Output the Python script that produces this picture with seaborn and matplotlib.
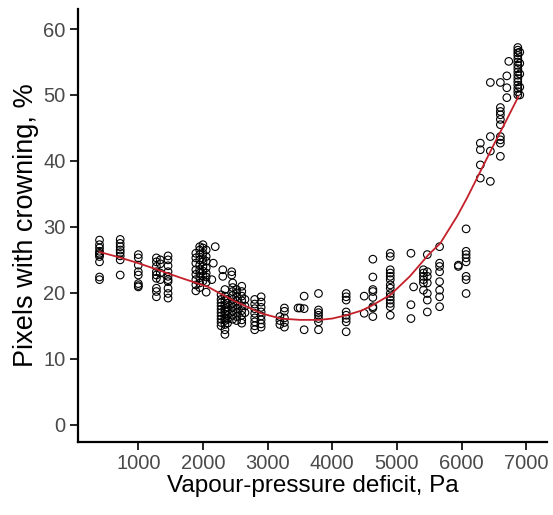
import numpy as np
import pandas as pd
import seaborn as sns
import matplotlib
matplotlib.use("Agg")
import matplotlib.pyplot as plt

# ---- data ----
col_x = [400, 720, 1000, 1280, 1340, 1460, 1890, 1950, 2000, 2050, 2137, 2160, 2190,
         2307, 2445, 2280, 2340, 2380, 2460, 2520, 2600, 2650, 2800, 2900, 3190, 3260,
         3470, 3503, 3565, 3787, 4215, 4494, 4628, 4897, 5217, 5258, 5410, 5470, 5660,
         5950, 6070, 6290, 6445, 6600, 6700, 6730, 6870, 6900]
col_y = [
    [28.0, 27.3, 26.8, 26.3, 26.0, 25.8, 25.5, 24.7, 22.4, 22.0],
    [28.1, 27.5, 27.0, 26.5, 26.1, 25.6, 25.0, 22.7],
    [25.8, 25.3, 24.2, 23.2, 22.7, 21.4, 20.9, 21.1],
    [25.3, 24.7, 24.0, 23.2, 22.7, 22.2, 20.7, 20.2, 19.4],
    [25.0, 24.4, 23.0, 22.0],
    [25.6, 25.0, 24.1, 23.2, 22.5, 22.0, 21.7, 20.7, 19.9, 19.2],
    [26.0, 25.3, 24.5, 23.5, 22.8, 22.0, 21.2, 20.3],
    [27.0, 26.5, 25.8, 25.0, 24.2, 23.5, 23.0, 22.3, 21.5, 20.8],
    [27.3, 26.8, 26.0, 25.2, 24.7, 24.0, 23.3, 22.6, 21.8],
    [26.5, 25.5, 24.8, 23.8, 23.0, 22.4, 21.6, 20.1],
    [22.0],
    [24.5],
    [27.0],
    [23.5, 22.5],
    [23.2, 22.7],
    [19.7, 19.0, 18.5, 18.0, 17.5, 17.0, 16.5, 16.0, 15.5, 15.0],
    [20.5, 19.5, 18.8, 18.2, 17.6, 17.2, 16.8, 16.2, 15.8, 15.2, 14.4, 13.7],
    [19.0, 18.4, 17.8, 17.3, 16.6, 16.0, 15.4],
    [21.5, 20.8, 20.2, 19.6, 19.0, 18.4, 17.8, 17.2, 16.6, 16.0],
    [20.5, 20.0, 19.4, 18.8, 18.2, 17.6, 17.0, 16.4, 15.8],
    [21.0, 20.2, 19.5, 18.8, 18.0, 17.3, 16.6, 15.9, 15.4],
    [19.0, 18.0, 17.0],
    [19.0, 18.3, 17.6, 16.9, 16.2, 15.6, 15.0, 14.4],
    [19.4, 18.6, 17.8, 17.1, 16.5, 15.9, 15.3, 14.8],
    [16.4, 15.8, 15.2],
    [17.7, 17.2, 16.2, 15.5, 14.8],
    [17.7],
    [17.7],
    [19.5, 17.6, 14.4],
    [19.9, 17.4, 17.0, 16.6, 16.1, 15.6, 14.4],
    [19.9, 19.4, 18.9, 17.1, 16.6, 16.1, 15.6, 14.1],
    [19.5, 16.9],
    [25.1, 22.4, 20.5, 20.2, 19.3, 17.9, 17.7, 16.4],
    [26.0, 25.5, 23.5, 23.0, 22.5, 22.0, 21.2, 20.7, 19.9, 19.4, 18.9, 18.4, 17.9, 16.6],
    [26.0, 18.2, 16.1],
    [20.9],
    [23.5, 23.0, 22.5, 22.0, 21.5, 20.4],
    [25.8, 23.2, 22.5, 21.5, 19.9, 18.9, 17.1],
    [27.0, 24.5, 24.0, 23.2, 21.7, 20.4, 19.4, 17.9],
    [24.2, 24.0],
    [29.7, 26.3, 25.8, 25.3, 24.7, 22.5, 22.0, 19.9],
    [42.7, 41.7, 39.4, 37.4],
    [51.9, 43.7, 41.5, 36.9],
    [51.9, 48.1, 47.5, 47.0, 46.3, 45.5, 43.7, 43.2, 42.7, 40.7],
    [51.1, 52.9, 49.6],
    [55.1],
    [57.2, 56.8, 56.4, 56.0, 55.5, 55.0, 54.5, 54.0, 53.5, 53.0, 52.5, 52.0, 51.5, 51.0, 50.5, 50.0],
    [56.5, 54.8, 53.2, 51.2, 50.0],
]

curve_x = [400, 700, 1000, 1300, 1650, 2080, 2265, 2500, 2680, 2900, 3200, 3500, 3800,
           4000, 4215, 4450, 4600, 4900, 5200, 5490, 5670, 5930, 6085, 6290, 6500, 6700, 6880]
curve_y = [26.2, 25.4, 24.5, 23.5, 22.3, 20.9, 19.9, 18.7, 17.9, 16.9, 16.1, 15.9, 15.9,
           16.1, 16.6, 17.3, 18.0, 19.7, 22.5, 25.8, 27.5, 31.6, 34.4, 38.4, 42.5, 46.3, 49.8]

x_ticks = [1000, 2000, 3000, 4000, 5000, 6000, 7000]
y_ticks = [0, 10, 20, 30, 40, 50, 60]

vpd = [x for x, ys in zip(col_x, col_y) for _ in ys]
crown = [y for ys in col_y for y in ys]
pts = pd.DataFrame({"vpd": vpd, "crown": crown})
fit = pd.DataFrame({"vpd": curve_x, "crown": curve_y})

# ---- plot ----
sns.set_style("white")
plt.rcParams["font.family"] = ["Liberation Sans", "DejaVu Sans"]

fig = plt.figure(figsize=(5.53, 5.15), dpi=100)
ax = fig.add_axes([0.141, 0.142, 0.848, 0.84])

sns.scatterplot(data=pts, x="vpd", y="crown", ax=ax, marker="o", s=30,
                facecolor="none", edgecolor="black", linewidth=0.8, zorder=2)
for c in ax.collections:
    c.set_facecolor("none")
    c.set_edgecolor("black")
sns.lineplot(data=fit, x="vpd", y="crown", ax=ax, color="#c4202a", linewidth=1.3,
             zorder=3, sort=False)

ax.set_xlim(67, 7320)
ax.set_ylim(-2.6, 63)
ax.set_xticks(x_ticks)
ax.set_yticks(y_ticks)
ax.set_xticklabels([str(v) for v in x_ticks])
ax.set_yticklabels([str(v) for v in y_ticks])
ax.tick_params(axis="both", direction="out", length=6, width=1.2, color="black",
               labelsize=14.5, labelcolor="#4a4a4a", pad=3, left=True, bottom=True)
for side in ["top", "right"]:
    ax.spines[side].set_visible(False)
for side in ["left", "bottom"]:
    ax.spines[side].set_visible(True)
    ax.spines[side].set_color("black")
    ax.spines[side].set_linewidth(1.6)
ax.grid(False)
ax.set_xlabel("Vapour-pressure deficit, Pa", fontsize=17.5, color="black", labelpad=1)
ax.set_ylabel("Pixels with crowning, %", fontsize=19.5, color="black", labelpad=3)

fig.savefig("out.png", dpi=100)
